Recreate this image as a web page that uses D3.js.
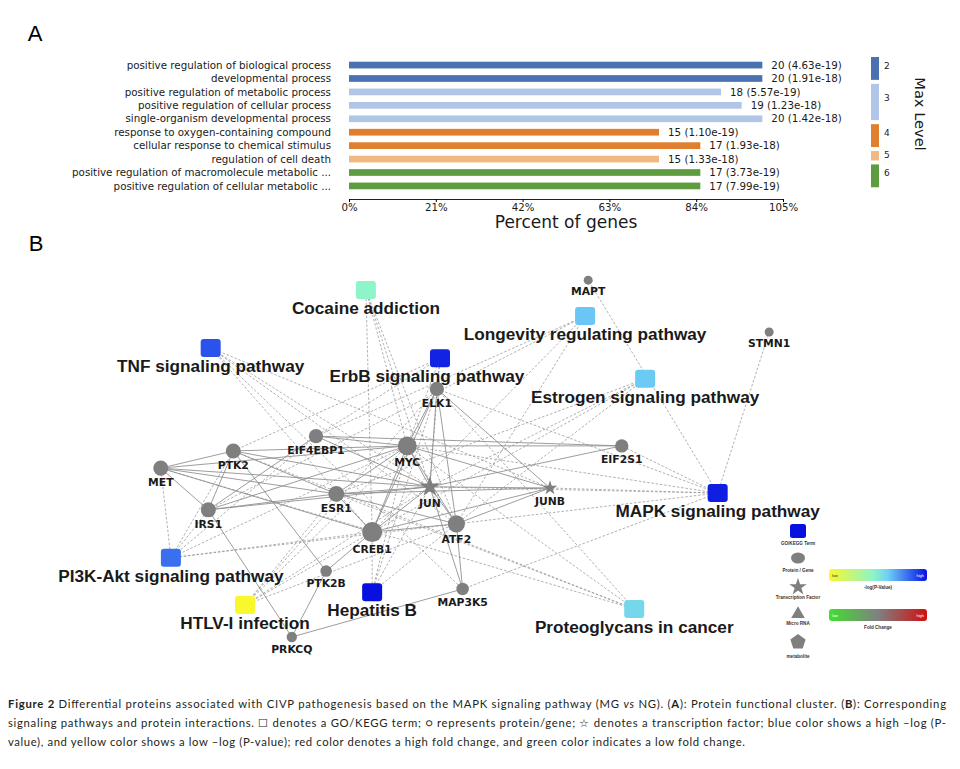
<!DOCTYPE html>
<html>
<head>
<meta charset="utf-8">
<script src="https://cdn.jsdelivr.net/npm/d3@7"></script>
<style>
  body { margin: 0; background: #fff; }
</style>
</head>
<body>
<svg id="fig" width="960" height="769"></svg>
<script>
// ---- panel A data ----
const terms = [
  "positive regulation of biological process",
  "developmental process",
  "positive regulation of metabolic process",
  "positive regulation of cellular process",
  "single-organism developmental process",
  "response to oxygen-containing compound",
  "cellular response to chemical stimulus",
  "regulation of cell death",
  "positive regulation of macromolecule metabolic ...",
  "positive regulation of cellular metabolic ..."
];
const geneCounts = [20, 20, 18, 19, 20, 15, 17, 15, 17, 17];
const pValues = ["4.63e-19", "1.91e-18", "5.57e-19", "1.23e-18", "1.42e-18",
                 "1.10e-19", "1.93e-18", "1.33e-18", "3.73e-19", "7.99e-19"];
const maxLevels = [2, 2, 3, 3, 3, 4, 4, 5, 6, 6];
const levels = [2, 3, 4, 5, 6];
const percentTicks = [0, 21, 42, 63, 84, 105];
const totalGenes = 20;

// ---- panel B data (layout units 0-100) ----
const pathways = [
  { id: "Cocaine addiction", x: 40.5, y: 5.1, score: 0.45 },
  { id: "Longevity regulating pathway", x: 68.6, y: 11.8, score: 0.62 },
  { id: "TNF signaling pathway", x: 20.6, y: 20.0, score: 0.86 },
  { id: "ErbB signaling pathway", x: 50.0, y: 22.6, score: 0.96 },
  { id: "Estrogen signaling pathway", x: 76.3, y: 27.9, score: 0.61 },
  { id: "MAPK signaling pathway", x: 85.6, y: 57.2, score: 0.97 },
  { id: "PI3K-Akt signaling pathway", x: 15.5, y: 73.8, score: 0.8 },
  { id: "Hepatitis B", x: 41.3, y: 82.6, score: 1.0 },
  { id: "Proteoglycans in cancer", x: 74.9, y: 86.9, score: 0.57 },
  { id: "HTLV-I infection", x: 25.0, y: 85.9, score: 0.0 }
];
const genes = [
  { id: "MAPT", x: 69.0, y: 2.6, deg: 2, tf: false },
  { id: "STMN1", x: 92.2, y: 15.9, deg: 2, tf: false },
  { id: "ELK1", x: 49.6, y: 30.5, deg: 7, tf: false },
  { id: "EIF4EBP1", x: 34.1, y: 42.6, deg: 7, tf: false },
  { id: "MYC", x: 45.8, y: 45.1, deg: 14, tf: false },
  { id: "PTK2", x: 23.5, y: 46.4, deg: 8, tf: false },
  { id: "EIF2S1", x: 73.3, y: 45.1, deg: 6, tf: false },
  { id: "MET", x: 14.2, y: 50.8, deg: 8, tf: false },
  { id: "JUN", x: 48.7, y: 55.6, deg: 14, tf: true },
  { id: "JUNB", x: 64.1, y: 55.9, deg: 6, tf: true },
  { id: "ESR1", x: 36.7, y: 57.4, deg: 9, tf: false },
  { id: "IRS1", x: 20.3, y: 61.5, deg: 8, tf: false },
  { id: "ATF2", x: 52.1, y: 65.1, deg: 11, tf: false },
  { id: "CREB1", x: 41.3, y: 67.2, deg: 16, tf: false },
  { id: "PTK2B", x: 35.4, y: 77.2, deg: 4, tf: false },
  { id: "MAP3K5", x: 52.9, y: 81.8, deg: 5, tf: false },
  { id: "PRKCQ", x: 31.0, y: 94.1, deg: 3, tf: false }
];
const ppiEdges = [
  ["MET","PTK2"],["MET","IRS1"],["MET","MYC"],["MET","JUN"],["MET","ESR1"],["MET","CREB1"],
  ["PTK2","IRS1"],["PTK2","MYC"],["PTK2","PTK2B"],["PTK2","JUN"],["PTK2","ESR1"],
  ["IRS1","PRKCQ"],["IRS1","MYC"],["IRS1","JUN"],["IRS1","ESR1"],["IRS1","EIF4EBP1"],
  ["EIF4EBP1","MYC"],["EIF4EBP1","EIF2S1"],["EIF4EBP1","JUN"],
  ["MYC","EIF2S1"],["MYC","JUN"],["MYC","CREB1"],["MYC","ESR1"],["MYC","ATF2"],["MYC","ELK1"],["MYC","JUNB"],
  ["ELK1","JUN"],["ELK1","CREB1"],["ELK1","ATF2"],["ELK1","JUNB"],
  ["ESR1","JUN"],["ESR1","CREB1"],["ESR1","ATF2"],["ESR1","JUNB"],
  ["JUN","CREB1"],["JUN","ATF2"],["JUN","JUNB"],["JUN","MAP3K5"],["JUN","EIF2S1"],
  ["CREB1","ATF2"],["CREB1","PTK2B"],["CREB1","JUNB"],
  ["ATF2","MAP3K5"],["ATF2","JUNB"],
  ["PTK2B","PRKCQ"],["PRKCQ","MAP3K5"]
];
const pathwayMembers = [
  ["Cocaine addiction", ["CREB1","JUN","ATF2","MYC"]],
  ["Longevity regulating pathway", ["IRS1","EIF4EBP1","CREB1","ATF2"]],
  ["TNF signaling pathway", ["JUN","CREB1","ATF2","MAP3K5","JUNB"]],
  ["ErbB signaling pathway", ["ELK1","MYC","JUN","PTK2","EIF4EBP1"]],
  ["Estrogen signaling pathway", ["ESR1","CREB1","ATF2","JUN"]],
  ["MAPK signaling pathway", ["ELK1","MYC","JUN","JUNB","ATF2","MAP3K5","MAPT","STMN1","EIF2S1"]],
  ["PI3K-Akt signaling pathway", ["MET","IRS1","PTK2","CREB1","MYC","EIF4EBP1","ATF2"]],
  ["Hepatitis B", ["CREB1","MYC","JUN","ATF2","ELK1"]],
  ["HTLV-I infection", ["CREB1","ATF2","JUN","MYC","ELK1","ESR1"]],
  ["Proteoglycans in cancer", ["MET","PTK2","ESR1","MYC","ELK1"]]
];
const legendShapes = ["GO/KEGG Term", "Protein / Gene", "Transcription Factor", "Micro RNA", "metabolite"];

const svg = d3.select("#fig");
const sans = "DejaVu Sans, sans-serif";
const arial = "Liberation Sans, Arial, sans-serif";

// ================= Panel A =================
svg.append("text").attr("x", 35).attr("y", 41).attr("text-anchor", "middle")
  .style("font-family", arial).style("font-size", "22px").text("A");

const levelColor = d3.scaleOrdinal()
  .domain(levels)
  .range(["#4a72b0", "#b1c5e6", "#e0802e", "#f0b981", "#5e9c40"]);

const x = d3.scaleLinear().domain([0, 105]).range([349, 783]);
const y = d3.scaleBand().domain(terms).range([55, 196]).padding(0.5);

const barsA = terms.map((t, i) => ({
  term: t, count: geneCounts[i], p: pValues[i], level: maxLevels[i],
  pct: geneCounts[i] / totalGenes * 100
}));

const gA = svg.append("g");
gA.selectAll("rect.bar").data(barsA).join("rect")
  .attr("class", "bar")
  .attr("x", x(0))
  .attr("y", d => y(d.term))
  .attr("width", d => x(d.pct) - x(0))
  .attr("height", y.bandwidth())
  .attr("fill", d => levelColor(d.level));

gA.selectAll("text.val").data(barsA).join("text")
  .attr("class", "val")
  .attr("x", d => x(d.pct) + 9)
  .attr("y", d => y(d.term) + y.bandwidth() / 2)
  .attr("dy", "0.35em")
  .style("font-family", sans).style("font-size", "10.3px").attr("fill", "#1a1a1a")
  .text(d => `${d.count} (${d.p})`);

gA.selectAll("text.term").data(barsA).join("text")
  .attr("class", "term")
  .attr("x", 331)
  .attr("y", d => y(d.term) + y.bandwidth() / 2)
  .attr("dy", "0.35em")
  .attr("text-anchor", "end")
  .style("font-family", sans).style("font-size", "10.3px").attr("fill", "#1a1a1a")
  .text(d => d.term);

const axisA = gA.append("g").attr("transform", "translate(0,199)")
  .call(d3.axisBottom(x).tickValues(percentTicks).tickFormat(d => d + "%")
    .tickSizeOuter(0).tickSize(3).tickPadding(1.5));
axisA.selectAll("text").style("font-family", sans).style("font-size", "10.2px").attr("fill", "#1a1a1a");
axisA.select(".domain").attr("stroke", "#222");

svg.append("text").attr("x", 566).attr("y", 228).attr("text-anchor", "middle")
  .style("font-family", sans).style("font-size", "17px").attr("fill", "#1a1a1a")
  .text("Percent of genes");

// discrete colour bar
const step = y.step();
const cb = levels.map(l => {
  const idx = maxLevels.map((m, i) => m === l ? i : -1).filter(i => i >= 0);
  const top = 55 + idx[0] * step + 2;
  const bottom = 55 + (idx[idx.length - 1] + 1) * step - 2;
  return { level: l, top, h: bottom - top };
});
svg.selectAll("rect.cb").data(cb).join("rect")
  .attr("class", "cb")
  .attr("x", 871).attr("width", 8)
  .attr("y", d => d.top).attr("height", d => d.h)
  .attr("fill", d => levelColor(d.level));
svg.selectAll("text.cbl").data(cb).join("text")
  .attr("class", "cbl")
  .attr("x", 884)
  .attr("y", d => d.top + d.h * 0.38)
  .attr("dy", "0.35em")
  .style("font-family", sans).style("font-size", "9px").attr("fill", "#222")
  .text(d => d.level);
svg.append("text")
  .attr("transform", "translate(915,114) rotate(90)")
  .attr("text-anchor", "middle")
  .style("font-family", sans).style("font-size", "14.6px").attr("fill", "#1a1a1a")
  .text("Max Level");

// ================= Panel B =================
svg.append("text").attr("x", 36).attr("y", 251).attr("text-anchor", "middle")
  .style("font-family", arial).style("font-size", "22px").text("B");

const bx = d3.scaleLinear().domain([0, 100]).range([50, 830]);
const by = d3.scaleLinear().domain([0, 100]).range([270, 660]);

const pStops = [0, 0.45, 0.6, 0.8, 1];
const pColor = d3.scaleLinear().domain(pStops)
  .range(["#f8f82c", "#8ef5c8", "#6fd0f5", "#3a6ff0", "#0810e0"]);
const rScale = d3.scaleSqrt().domain([2, 16]).range([4.5, 10]);

const nodeById = new Map();
pathways.forEach(p => nodeById.set(p.id, p));
genes.forEach(g => nodeById.set(g.id, g));

const dashEdges = pathwayMembers.flatMap(([p, gs]) => gs.map(g => [p, g]));

const gB = svg.append("g");
gB.selectAll("line.dash").data(dashEdges).join("line")
  .attr("class", "dash")
  .attr("x1", d => bx(nodeById.get(d[0]).x)).attr("y1", d => by(nodeById.get(d[0]).y))
  .attr("x2", d => bx(nodeById.get(d[1]).x)).attr("y2", d => by(nodeById.get(d[1]).y))
  .attr("stroke", "#9c9c9c").attr("stroke-width", 0.8)
  .attr("stroke-dasharray", "2.5,1.8");

gB.selectAll("line.ppi").data(ppiEdges).join("line")
  .attr("class", "ppi")
  .attr("x1", d => bx(nodeById.get(d[0]).x)).attr("y1", d => by(nodeById.get(d[0]).y))
  .attr("x2", d => bx(nodeById.get(d[1]).x)).attr("y2", d => by(nodeById.get(d[1]).y))
  .attr("stroke", "#8c8c8c").attr("stroke-width", 1.0).attr("stroke-opacity", 0.85);

// gene nodes
const geneG = gB.selectAll("g.gene").data(genes).join("g")
  .attr("class", "gene")
  .attr("transform", d => `translate(${bx(d.x)},${by(d.y)})`);
geneG.filter(d => !d.tf).append("circle")
  .attr("r", d => rScale(d.deg)).attr("fill", "#7f7f7f");
geneG.filter(d => d.tf).append("path")
  .attr("d", d => d3.symbol().type(d3.symbolStar).size(Math.pow(rScale(d.deg) * 1.15, 2) / 0.89)())
  .attr("fill", "#7f7f7f");
geneG.append("text")
  .attr("y", d => rScale(d.deg) + 10.5)
  .attr("text-anchor", "middle")
  .style("font-family", sans).style("font-weight", "bold").style("font-size", "10.8px")
  .attr("fill", "#1a1a1a")
  .text(d => d.id);

// pathway nodes
const pwG = gB.selectAll("g.pw").data(pathways).join("g")
  .attr("class", "pw")
  .attr("transform", d => `translate(${bx(d.x)},${by(d.y)})`);
pwG.append("rect")
  .attr("x", -10).attr("y", -9).attr("width", 20).attr("height", 18).attr("rx", 3)
  .attr("fill", d => pColor(d.score));
pwG.append("text")
  .attr("x", d => d.id.startsWith("ErbB") ? -13 : 0)
  .attr("y", 24)
  .attr("text-anchor", "middle")
  .style("font-family", arial).style("font-weight", "bold").style("font-size", "17.2px")
  .attr("fill", "#1a1a1a")
  .text(d => d.id);

// legend
const lg = svg.append("g").attr("transform", "translate(798,0)");
const shapeY = [531, 558, 587, 613, 642];
const labelY = [545, 572, 599, 625, 658];
lg.append("rect").attr("x", -8).attr("y", shapeY[0] - 7).attr("width", 16).attr("height", 14)
  .attr("rx", 2.5).attr("fill", pColor(1));
lg.append("ellipse").attr("cx", 0).attr("cy", shapeY[1]).attr("rx", 7).attr("ry", 5.5).attr("fill", "#7f7f7f");
lg.append("path").attr("transform", `translate(0,${shapeY[2]})`)
  .attr("d", d3.symbol().type(d3.symbolStar).size(95)()).attr("fill", "#7f7f7f");
lg.append("path").attr("transform", `translate(0,${shapeY[3] + 1})`)
  .attr("d", d3.symbol().type(d3.symbolTriangle).size(80)()).attr("fill", "#7f7f7f");
const pent = d3.range(5).map(i => {
  const a = -Math.PI / 2 + i * 2 * Math.PI / 5;
  return [8 * Math.cos(a), 8 * Math.sin(a)];
});
lg.append("path").attr("transform", `translate(0,${shapeY[4]})`)
  .attr("d", d3.line()(pent) + "Z").attr("fill", "#7f7f7f");
lg.selectAll("text.lgl").data(legendShapes).join("text")
  .attr("class", "lgl")
  .attr("x", 0).attr("y", (d, i) => labelY[i])
  .attr("text-anchor", "middle")
  .style("font-family", arial).style("font-weight", "bold").style("font-size", "4.6px")
  .attr("fill", "#333")
  .text(d => d);

// gradient bars
const defs = svg.append("defs");
const g1 = defs.append("linearGradient").attr("id", "gp");
pStops.forEach(s => g1.append("stop").attr("offset", s).attr("stop-color", pColor(s)));
const fcStops = [0, 0.5, 1];
const fcColor = d3.scaleLinear().domain(fcStops).range(["#3ee030", "#808080", "#d01010"]);
const g2 = defs.append("linearGradient").attr("id", "gf");
fcStops.forEach(s => g2.append("stop").attr("offset", s).attr("stop-color", fcColor(s)));

const bars = [
  { id: "gp", y: 569, label: "-log(P-Value)", lowFill: "#333" },
  { id: "gf", y: 609, label: "Fold Change", lowFill: "#fff" }
];
const gb = svg.selectAll("g.gbar").data(bars).join("g").attr("class", "gbar");
gb.append("rect").attr("x", 829).attr("y", d => d.y).attr("width", 98).attr("height", 12)
  .attr("rx", 3).attr("fill", d => `url(#${d.id})`);
gb.append("text").attr("x", 832).attr("y", d => d.y + 7.5)
  .style("font-family", arial).style("font-size", "4px").attr("fill", d => d.lowFill).text("low");
gb.append("text").attr("x", 924).attr("y", d => d.y + 7.5).attr("text-anchor", "end")
  .style("font-family", arial).style("font-size", "4px").attr("fill", "#fff").text("high");
gb.append("text").attr("x", 878).attr("y", d => d.y + 19.5).attr("text-anchor", "middle")
  .style("font-family", arial).style("font-weight", "bold").style("font-size", "4.6px")
  .attr("fill", "#333").text(d => d.label);

// ================= caption =================
const cap = svg.append("g").style("font-family", "Lato, sans-serif").style("font-size", "11.3px")
  .attr("fill", "#231f20");
const l1 = cap.append("text").attr("x", 8).attr("y", 708)
  .attr("textLength", 938).attr("lengthAdjust", "spacing");
l1.append("tspan").style("font-weight", "bold").text("Figure 2");
l1.append("tspan").text(" Differential proteins associated with CIVP pathogenesis based on the MAPK signaling pathway (MG ");
l1.append("tspan").style("font-style", "italic").text("vs");
l1.append("tspan").text(" NG). (");
l1.append("tspan").style("font-weight", "bold").text("A");
l1.append("tspan").text("): Protein functional cluster. (");
l1.append("tspan").style("font-weight", "bold").text("B");
l1.append("tspan").text("): Corresponding");
cap.append("text").attr("x", 8).attr("y", 727)
  .attr("textLength", 938).attr("lengthAdjust", "spacing")
  .text("signaling pathways and protein interactions. \u2610 denotes a GO/KEGG term; \u25cb represents protein/gene; \u2606 denotes a transcription factor; blue color shows a high \u2013log (P-");
cap.append("text").attr("x", 8).attr("y", 746)
  .attr("textLength", 737).attr("lengthAdjust", "spacing")
  .text("value), and yellow color shows a low \u2013log (P-value); red color denotes a high fold change, and green color indicates a low fold change.");
</script>
</body>
</html>
